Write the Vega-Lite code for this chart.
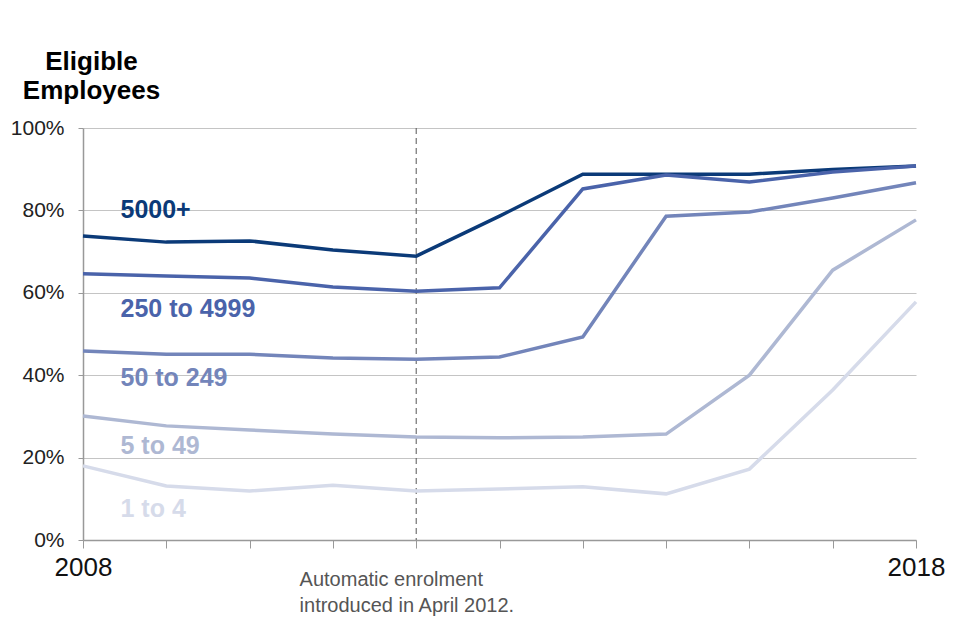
{
  "$schema": "https://vega.github.io/schema/vega-lite/v6.json",
  "width": 833,
  "height": 412,
  "autosize": {"type": "none"},
  "padding": {"left": 83, "top": 128, "right": 44, "bottom": 100},
  "background": "white",
  "config": {"view": {"stroke": null}, "font": "Liberation Sans"},
  "datasets": {
    "series": [
      {"year": 2008, "value": 73.8, "group": "5000+"},
      {"year": 2009, "value": 72.3, "group": "5000+"},
      {"year": 2010, "value": 72.6, "group": "5000+"},
      {"year": 2011, "value": 70.4, "group": "5000+"},
      {"year": 2012, "value": 68.9, "group": "5000+"},
      {"year": 2013, "value": 78.6, "group": "5000+"},
      {"year": 2014, "value": 88.8, "group": "5000+"},
      {"year": 2015, "value": 88.8, "group": "5000+"},
      {"year": 2016, "value": 88.8, "group": "5000+"},
      {"year": 2017, "value": 89.9, "group": "5000+"},
      {"year": 2018, "value": 90.8, "group": "5000+"},
      {"year": 2008, "value": 64.6, "group": "250 to 4999"},
      {"year": 2009, "value": 64.1, "group": "250 to 4999"},
      {"year": 2010, "value": 63.6, "group": "250 to 4999"},
      {"year": 2011, "value": 61.4, "group": "250 to 4999"},
      {"year": 2012, "value": 60.4, "group": "250 to 4999"},
      {"year": 2013, "value": 61.2, "group": "250 to 4999"},
      {"year": 2014, "value": 85.2, "group": "250 to 4999"},
      {"year": 2015, "value": 88.6, "group": "250 to 4999"},
      {"year": 2016, "value": 86.9, "group": "250 to 4999"},
      {"year": 2017, "value": 89.3, "group": "250 to 4999"},
      {"year": 2018, "value": 90.8, "group": "250 to 4999"},
      {"year": 2008, "value": 45.9, "group": "50 to 249"},
      {"year": 2009, "value": 45.1, "group": "50 to 249"},
      {"year": 2010, "value": 45.1, "group": "50 to 249"},
      {"year": 2011, "value": 44.2, "group": "50 to 249"},
      {"year": 2012, "value": 43.9, "group": "50 to 249"},
      {"year": 2013, "value": 44.4, "group": "50 to 249"},
      {"year": 2014, "value": 49.3, "group": "50 to 249"},
      {"year": 2015, "value": 78.6, "group": "50 to 249"},
      {"year": 2016, "value": 79.6, "group": "50 to 249"},
      {"year": 2017, "value": 83.0, "group": "50 to 249"},
      {"year": 2018, "value": 86.7, "group": "50 to 249"},
      {"year": 2008, "value": 30.1, "group": "5 to 49"},
      {"year": 2009, "value": 27.7, "group": "5 to 49"},
      {"year": 2010, "value": 26.7, "group": "5 to 49"},
      {"year": 2011, "value": 25.7, "group": "5 to 49"},
      {"year": 2012, "value": 25.0, "group": "5 to 49"},
      {"year": 2013, "value": 24.8, "group": "5 to 49"},
      {"year": 2014, "value": 25.0, "group": "5 to 49"},
      {"year": 2015, "value": 25.7, "group": "5 to 49"},
      {"year": 2016, "value": 40.0, "group": "5 to 49"},
      {"year": 2017, "value": 65.5, "group": "5 to 49"},
      {"year": 2018, "value": 77.7, "group": "5 to 49"},
      {"year": 2008, "value": 18.0, "group": "1 to 4"},
      {"year": 2009, "value": 13.1, "group": "1 to 4"},
      {"year": 2010, "value": 11.9, "group": "1 to 4"},
      {"year": 2011, "value": 13.3, "group": "1 to 4"},
      {"year": 2012, "value": 11.9, "group": "1 to 4"},
      {"year": 2013, "value": 12.4, "group": "1 to 4"},
      {"year": 2014, "value": 12.9, "group": "1 to 4"},
      {"year": 2015, "value": 11.2, "group": "1 to 4"},
      {"year": 2016, "value": 17.2, "group": "1 to 4"},
      {"year": 2017, "value": 36.4, "group": "1 to 4"},
      {"year": 2018, "value": 57.8, "group": "1 to 4"}
    ],
    "labels": [
      {"year": 2008.45, "value": 80.1, "group": "5000+"},
      {"year": 2008.45, "value": 56.0, "group": "250 to 4999"},
      {"year": 2008.45, "value": 39.3, "group": "50 to 249"},
      {"year": 2008.45, "value": 22.8, "group": "5 to 49"},
      {"year": 2008.45, "value": 7.5, "group": "1 to 4"}
    ],
    "marker": [{"year": 2012}],
    "note": [{"year": 2010.6, "value": -7.4, "text": "Automatic enrolment\nintroduced in April 2012."}]
  },
  "layer": [
    {
      "data": {"name": "marker"},
      "mark": {"type": "rule", "color": "#555555", "strokeDash": [6, 4], "strokeWidth": 1},
      "encoding": {
        "x": {"field": "year", "type": "quantitative"}
      }
    },
    {
      "data": {"name": "series"},
      "mark": {"type": "line", "strokeWidth": 3.5, "clip": false},
      "encoding": {
        "x": {
          "field": "year", "type": "quantitative",
          "scale": {"domain": [2008, 2018], "nice": false, "zero": false},
          "axis": {
            "title": null, "values": [2008,2009,2010,2011,2012,2013,2014,2015,2016,2017,2018],
            "format": "d",
            "labelExpr": "datum.value == 2008 || datum.value == 2018 ? datum.label : ''",
            "labelFontSize": 26, "labelColor": "#111111", "labelPadding": 6,
            "labelFlush": false,
            "grid": false, "domainColor": "#999999", "tickColor": "#999999", "tickSize": 8, "domainWidth": 1.5
          }
        },
        "y": {
          "field": "value", "type": "quantitative",
          "scale": {"domain": [0, 100], "nice": false},
          "axis": {
            "values": [0, 20, 40, 60, 80, 100],
            "labelExpr": "datum.value + '%'",
            "labelFontSize": 21, "labelColor": "#222222", "labelPadding": 14,
            "tickSize": 5, "tickColor": "#999999",
            "domainColor": "#999999", "domainWidth": 1.5,
            "gridColor": "#c4c4c4", "gridWidth": 1.2,
            "title": ["Eligible", "Employees"],
            "titleAngle": 0, "titleAlign": "center", "titleBaseline": "top",
            "titleX": 8, "titleY": -80, "titleFontSize": 26, "titleFontWeight": "bold",
            "titleColor": "#000000", "titleLineHeight": 29
          }
        },
        "detail": {"field": "group"},
        "color": {
          "field": "group", "type": "nominal",
          "scale": {
            "domain": ["5000+", "250 to 4999", "50 to 249", "5 to 49", "1 to 4"],
            "range": ["#0b3a78", "#4a63aa", "#7385ba", "#aeb8d3", "#d6dbea"]
          },
          "legend": null
        },
        "order": {"field": "year"}
      }
    },
    {
      "data": {"name": "labels"},
      "mark": {"type": "text", "align": "left", "baseline": "middle", "fontSize": 25, "fontWeight": "bold"},
      "encoding": {
        "x": {"field": "year", "type": "quantitative"},
        "y": {"field": "value", "type": "quantitative"},
        "text": {"field": "group"},
        "color": {"field": "group", "type": "nominal", "legend": null}
      }
    },
    {
      "data": {"name": "note"},
      "mark": {"type": "text", "align": "left", "baseline": "top", "fontSize": 20, "color": "#555555", "lineBreak": "\n", "lineHeight": 26, "clip": false},
      "encoding": {
        "x": {"field": "year", "type": "quantitative"},
        "y": {"field": "value", "type": "quantitative"},
        "text": {"field": "text"}
      }
    }
  ]
}
